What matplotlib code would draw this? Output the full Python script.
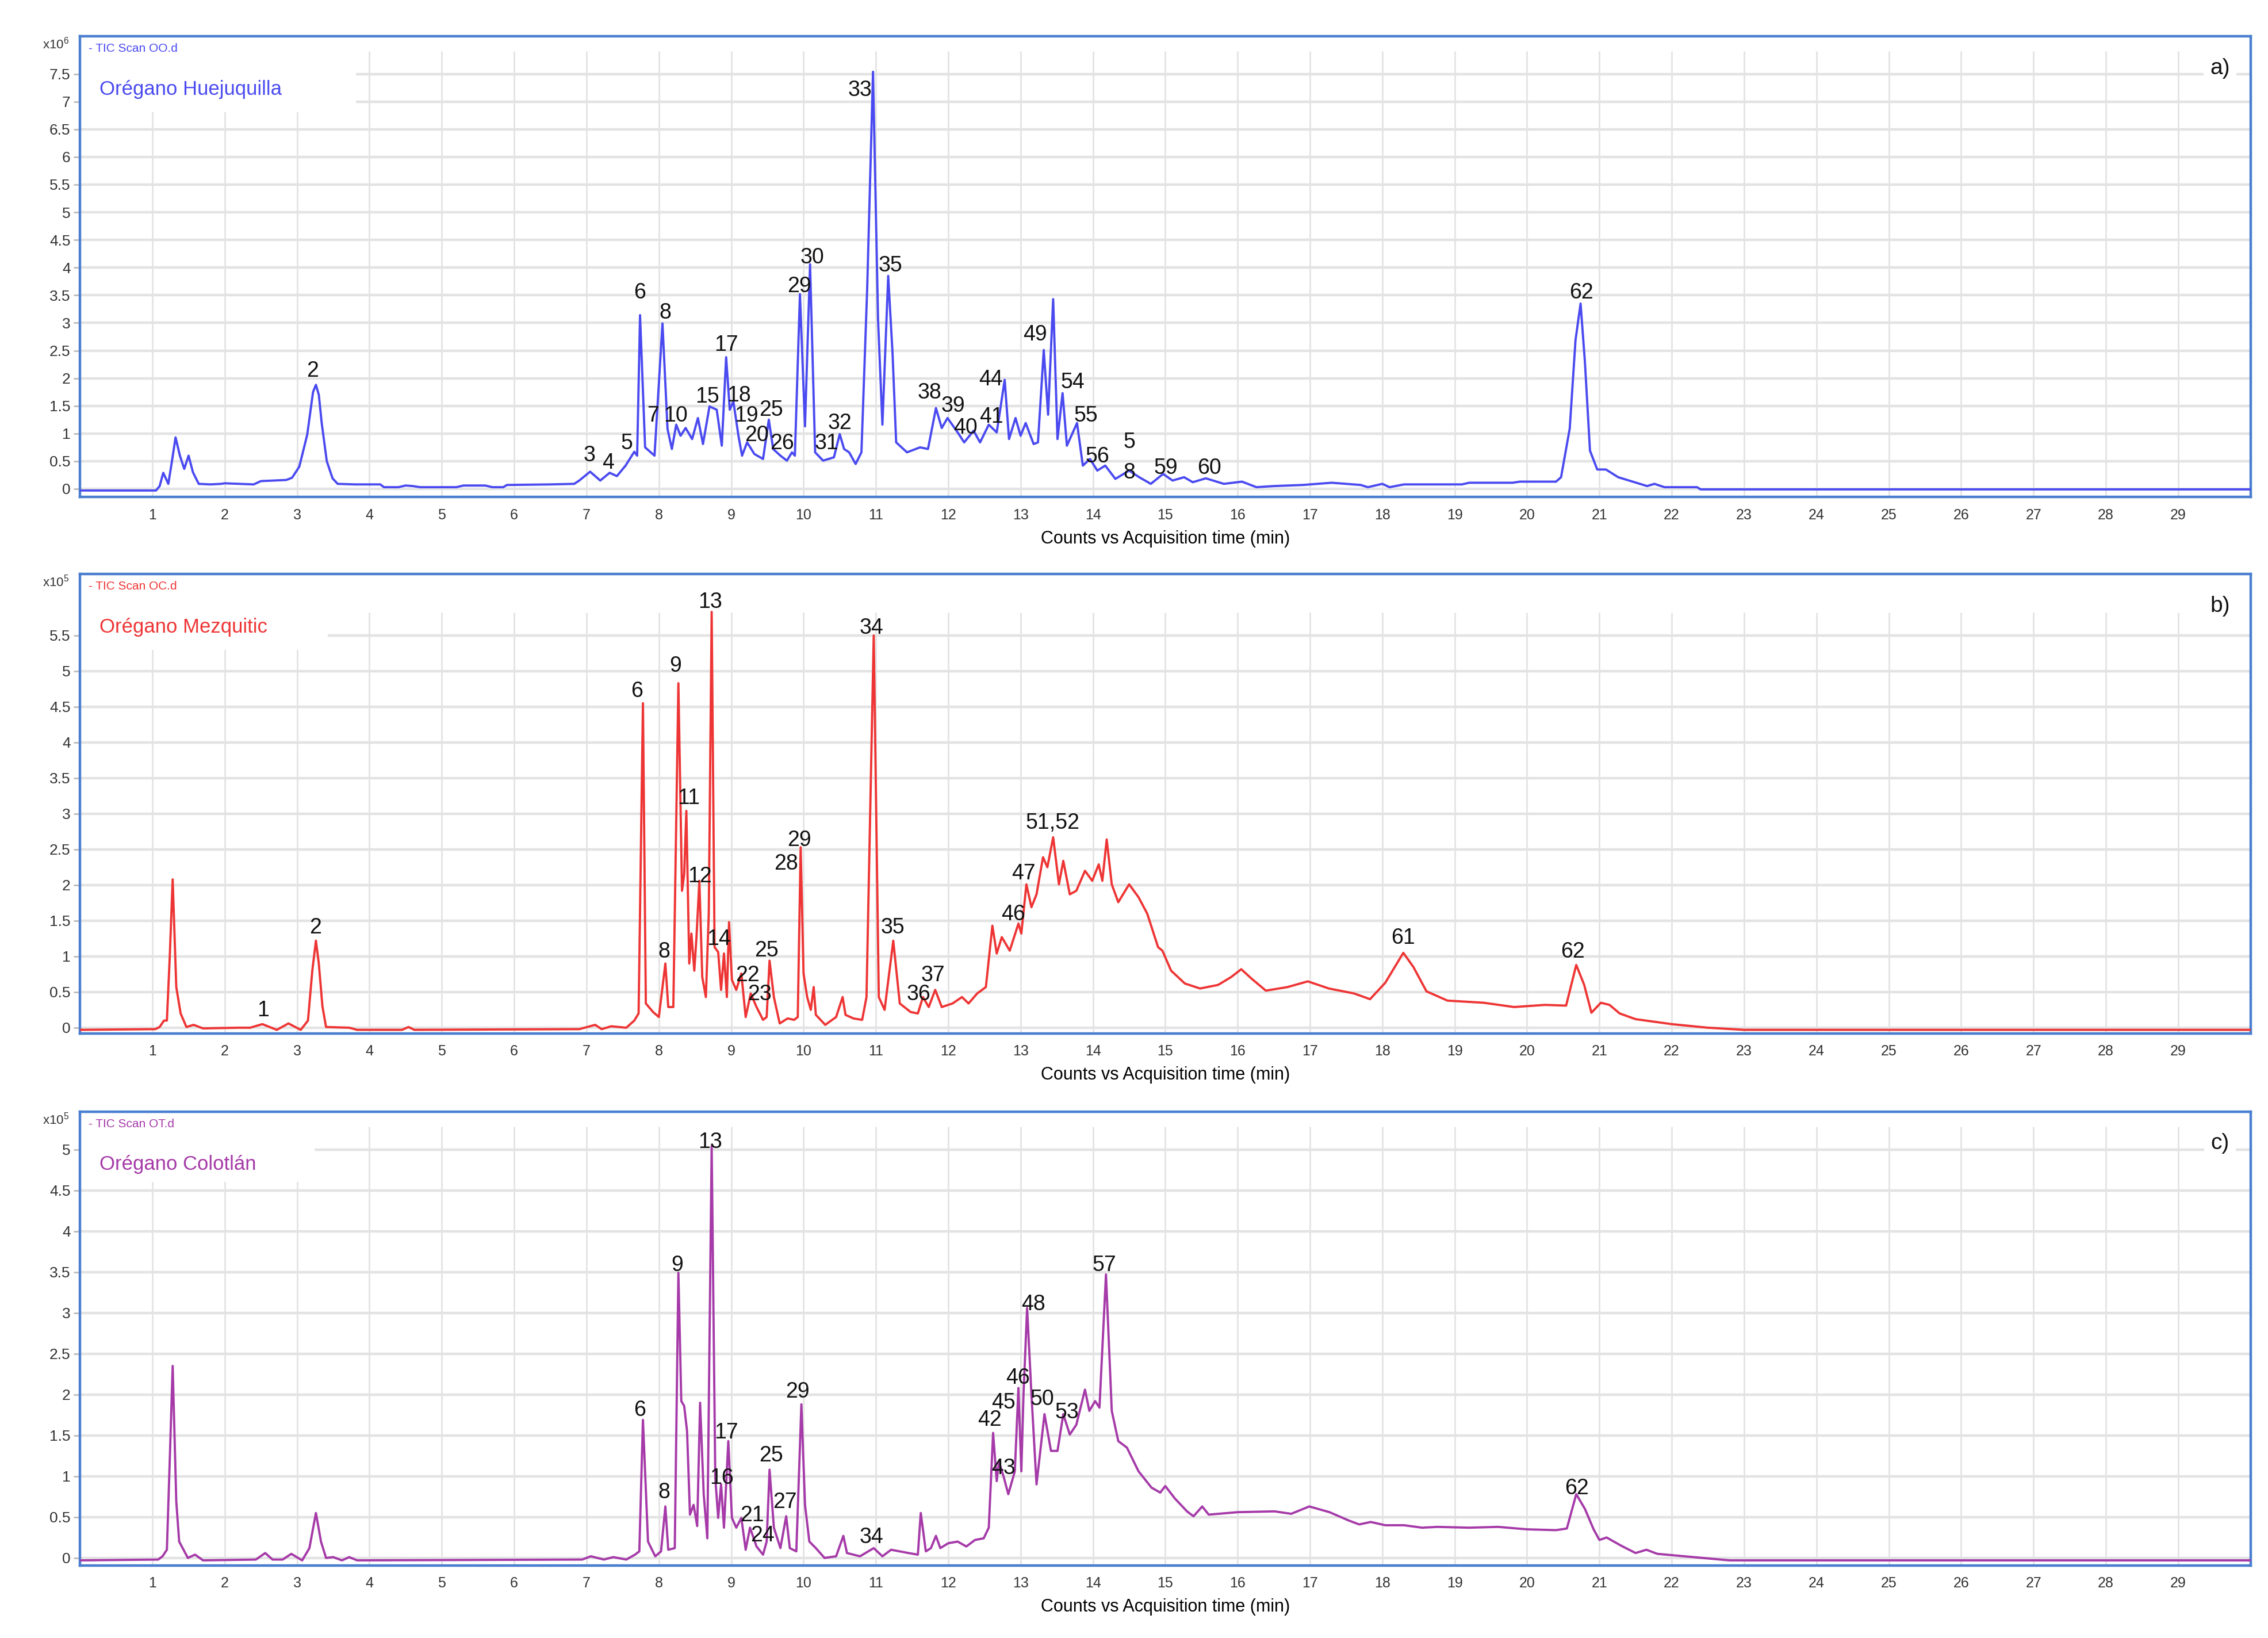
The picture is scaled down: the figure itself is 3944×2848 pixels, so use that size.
"""
GC-MS total ion chromatograms (TIC) of three oregano samples.
"""
import matplotlib
matplotlib.use("Agg")
import matplotlib.pyplot as plt
from matplotlib.patches import Rectangle

plt.rcParams["font.family"] = ["Liberation Sans", "DejaVu Sans"]

# ---------------------------------------------------------------- data
# panel a) Orégano Huejuquilla, counts x10^6
a_time = [0, 1.05, 1.1, 1.15, 1.22, 1.27, 1.32, 1.38, 1.44, 1.5, 1.56, 1.64, 1.8, 1.95, 2.0, 2.4,
          2.5, 2.85, 2.93, 3.03, 3.14, 3.22, 3.26, 3.3, 3.34, 3.41, 3.49, 3.56, 3.8, 4.15, 4.2, 4.4,
          4.5, 4.6, 4.7, 5.2, 5.3, 5.6, 5.7, 5.85, 5.9, 6.5, 6.83, 6.9, 7.05, 7.19, 7.32, 7.42, 7.54,
          7.66, 7.7, 7.74, 7.81, 7.94, 8.05, 8.12, 8.18, 8.24, 8.3, 8.37, 8.46, 8.54, 8.61, 8.7, 8.8,
          8.87, 8.93, 8.98, 9.03, 9.1, 9.15, 9.22, 9.32, 9.44, 9.52, 9.58, 9.68, 9.77, 9.84, 9.88,
          9.95, 10.02, 10.09, 10.16, 10.27, 10.42, 10.5, 10.56, 10.63, 10.72, 10.8, 10.88, 10.96,
          11.03, 11.09, 11.17, 11.23, 11.28, 11.43, 11.61, 11.72, 11.83, 11.91, 11.99, 12.13, 12.22,
          12.35, 12.44, 12.56, 12.67, 12.78, 12.84, 12.93, 13.0, 13.07, 13.18, 13.24, 13.32, 13.38,
          13.45, 13.51, 13.58, 13.64, 13.78, 13.86, 13.96, 14.06, 14.17, 14.31, 14.5, 14.64, 14.8,
          14.97, 15.1, 15.26, 15.38, 15.56, 15.81, 16.06, 16.26, 16.5, 16.9, 17.3, 17.7, 17.8, 18.0,
          18.1, 18.3, 19.1, 19.2, 19.8, 19.9, 20.4, 20.47, 20.59, 20.67, 20.74, 20.8, 20.87, 20.97,
          21.09, 21.26, 21.46, 21.66, 21.76, 21.9, 22.35, 22.4, 30]
a_counts = [-0.03, -0.03, 0.05, 0.29, 0.09, 0.5, 0.93, 0.6, 0.36, 0.6, 0.3, 0.09, 0.08, 0.09, 0.1,
            0.08, 0.14, 0.16, 0.2, 0.4, 0.98, 1.75, 1.88, 1.7, 1.19, 0.5, 0.19, 0.09, 0.08, 0.08,
            0.03, 0.03, 0.06, 0.05, 0.03, 0.03, 0.06, 0.06, 0.03, 0.03, 0.07, 0.08, 0.09, 0.15, 0.31,
            0.15, 0.29, 0.23, 0.42, 0.67, 0.6, 3.14, 0.75, 0.6, 2.99, 1.08, 0.72, 1.16, 0.96, 1.1,
            0.9, 1.28, 0.81, 1.49, 1.43, 0.78, 2.38, 1.43, 1.58, 0.96, 0.6, 0.84, 0.63, 0.54, 1.25,
            0.72, 0.6, 0.51, 0.66, 0.6, 3.52, 1.13, 4.06, 0.66, 0.51, 0.57, 0.99, 0.72, 0.66, 0.45,
            0.66, 3.64, 7.54, 3.05, 1.16, 3.85, 2.45, 0.84, 0.66, 0.75, 0.72, 1.46, 1.1, 1.28, 1.02,
            0.84, 1.05, 0.84, 1.16, 1.02, 1.97, 0.9, 1.28, 0.96, 1.19, 0.81, 0.84, 2.51, 1.34, 3.43,
            0.9, 1.73, 0.78, 1.19, 0.42, 0.54, 0.33, 0.42, 0.18, 0.33, 0.21, 0.09, 0.27, 0.15, 0.21,
            0.12, 0.19, 0.09, 0.13, 0.03, 0.05, 0.07, 0.11, 0.07, 0.03, 0.09, 0.03, 0.08, 0.08, 0.11,
            0.11, 0.13, 0.13, 0.21, 1.09, 2.69, 3.35, 2.29, 0.69, 0.35, 0.35, 0.21, 0.13, 0.05, 0.09,
            0.03, 0.03, -0.01, -0.01]
a_peak_labels = ["2", "3", "4", "5", "6", "7", "10", "8", "15", "17", "18", "19", "20", "25", "26",
                 "29", "30", "31", "32", "33", "35", "38", "39", "40", "41", "44", "49", "54", "55",
                 "56", "5", "8", "59", "60", "62"]
a_label_time = [3.21, 7.04, 7.3, 7.56, 7.74, 7.92, 8.23, 8.09, 8.67, 8.93, 9.11, 9.21, 9.35, 9.55,
                9.7, 9.94, 10.12, 10.32, 10.5, 10.78, 11.2, 11.74, 12.07, 12.24, 12.6, 12.59, 13.2,
                13.72, 13.9, 14.06, 14.5, 14.5, 15.01, 15.61, 20.75]
a_label_counts = [2.13, 0.6, 0.47, 0.82, 3.55, 1.32, 1.32, 3.18, 1.66, 2.6, 1.68, 1.32, 0.97, 1.42,
                  0.82, 3.66, 4.18, 0.82, 1.18, 7.21, 4.03, 1.74, 1.5, 1.1, 1.3, 1.98, 2.79,
                  1.92, 1.32, 0.58, 0.84, 0.29, 0.37, 0.37, 3.55]

# panel b) Orégano Mezquitic, counts x10^5
b_time = [0, 1.04, 1.1, 1.16, 1.2, 1.24, 1.28, 1.33, 1.39, 1.47, 1.57, 1.7, 2.19, 2.35, 2.52, 2.72,
          2.88, 3.05, 3.15, 3.21, 3.26, 3.3, 3.35, 3.4, 3.72, 3.83, 4.45, 4.54, 4.62, 6.9, 7.12,
          7.21, 7.34, 7.55, 7.66, 7.72, 7.78, 7.82, 7.92, 8.0, 8.09, 8.13, 8.2, 8.27, 8.32, 8.35,
          8.38, 8.42, 8.45, 8.49, 8.52, 8.56, 8.6, 8.65, 8.69, 8.73, 8.77, 8.82, 8.86, 8.9, 8.94,
          8.97, 9.01, 9.07, 9.14, 9.2, 9.27, 9.35, 9.44, 9.49, 9.53, 9.59, 9.67, 9.78, 9.87, 9.92,
          9.96, 10.0, 10.05, 10.1, 10.14, 10.17, 10.3, 10.45, 10.54, 10.58, 10.69, 10.81, 10.87,
          10.97, 11.04, 11.12, 11.24, 11.33, 11.48, 11.58, 11.65, 11.73, 11.82, 11.91, 12.06, 12.19,
          12.28, 12.4, 12.52, 12.61, 12.67, 12.74, 12.85, 12.97, 13.01, 13.08, 13.15, 13.22, 13.31,
          13.37, 13.45, 13.53, 13.59, 13.68, 13.77, 13.89, 13.99, 14.08, 14.13, 14.19, 14.26, 14.35,
          14.5, 14.63, 14.75, 14.9, 14.96, 15.08, 15.27, 15.48, 15.73, 15.91, 16.05, 16.19, 16.39,
          16.69, 16.97, 17.26, 17.61, 17.83, 18.04, 18.29, 18.43, 18.61, 18.9, 19.4, 19.82, 20.25,
          20.54, 20.68, 20.79, 20.89, 21.02, 21.14, 21.28, 21.5, 22.0, 22.5, 23.0, 30]
b_counts = [-0.03, -0.02, 0.01, 0.1, 0.1, 1.0, 2.08, 0.57, 0.2, 0.01, 0.04, -0.01, 0.0, 0.0, 0.05,
            -0.03, 0.06, -0.03, 0.1, 0.8, 1.22, 0.9, 0.3, 0.01, 0.0, -0.03, -0.03, 0.01, -0.03,
            -0.02, 0.04, -0.02, 0.02, 0.0, 0.1, 0.2, 4.55, 0.34, 0.22, 0.15, 0.9, 0.29, 0.29, 4.83,
            1.92, 2.15, 3.04, 0.9, 1.32, 0.8, 1.27, 2.06, 0.71, 0.43, 1.6, 5.83, 1.13, 1.06, 0.53,
            1.04, 0.43, 1.48, 0.67, 0.53, 0.76, 0.15, 0.48, 0.29, 0.11, 0.15, 0.94, 0.43, 0.06, 0.13,
            0.11, 0.15, 2.53, 0.76, 0.43, 0.25, 0.57, 0.18, 0.04, 0.15, 0.43, 0.18, 0.13, 0.11, 0.43,
            5.5, 0.43, 0.25, 1.22, 0.34, 0.22, 0.2, 0.43, 0.29, 0.53, 0.29, 0.34, 0.43, 0.34, 0.48,
            0.57, 1.43, 1.04, 1.27, 1.08, 1.46, 1.32, 2.01, 1.69, 1.87, 2.39, 2.25, 2.67, 2.01, 2.34,
            1.87, 1.92, 2.2, 2.06, 2.29, 2.06, 2.64, 2.01, 1.76, 2.01, 1.83, 1.6, 1.13, 1.08, 0.8,
            0.62, 0.55, 0.6, 0.71, 0.82, 0.69, 0.52, 0.57, 0.65, 0.55, 0.48, 0.4, 0.63, 1.05, 0.85,
            0.51, 0.38, 0.35, 0.29, 0.32, 0.31, 0.88, 0.6, 0.21, 0.35, 0.32, 0.2, 0.12, 0.05, 0.0,
            -0.03, -0.03]
b_peak_labels = ["1", "2", "6", "8", "9", "11", "12", "13", "14", "22", "23", "25", "28", "29",
                 "34", "35", "36", "37", "46", "47", "51,52", "61", "62"]
b_label_time = [2.53, 3.25, 7.7, 8.07, 8.23, 8.41, 8.57, 8.71, 8.83, 9.23, 9.39, 9.49, 9.76, 9.94,
                10.94, 11.23, 11.59, 11.79, 12.9, 13.04, 13.44, 18.29, 20.63]
b_label_counts = [0.24, 1.4, 4.72, 1.06, 5.07, 3.22, 2.12, 5.97, 1.24, 0.73, 0.47, 1.08, 2.3,
                  2.63, 5.6, 1.4, 0.47, 0.73, 1.59, 2.16, 2.87, 1.26, 1.06]

# panel c) Orégano Colotlán, counts x10^5
c_time = [0, 1.08, 1.14, 1.2, 1.24, 1.28, 1.33, 1.37, 1.43, 1.49, 1.59, 1.7, 2.43, 2.56, 2.66, 2.8,
          2.92, 3.07, 3.17, 3.26, 3.33, 3.4, 3.5, 3.62, 3.72, 3.83, 6.94, 7.06, 7.24, 7.37, 7.55,
          7.67, 7.73, 7.78, 7.85, 7.95, 8.03, 8.09, 8.13, 8.22, 8.27, 8.31, 8.35, 8.39, 8.43, 8.48,
          8.53, 8.57, 8.62, 8.67, 8.73, 8.78, 8.82, 8.86, 8.9, 8.96, 9.01, 9.07, 9.14, 9.2, 9.26,
          9.35, 9.44, 9.49, 9.53, 9.59, 9.68, 9.76, 9.81, 9.9, 9.97, 10.02, 10.08, 10.17, 10.29,
          10.45, 10.55, 10.6, 10.78, 10.97, 11.09, 11.21, 11.45, 11.58, 11.62, 11.69, 11.76, 11.83,
          11.89, 12.0, 12.13, 12.25, 12.37, 12.49, 12.56, 12.62, 12.67, 12.7, 12.77, 12.83, 12.92,
          12.97, 13.01, 13.04, 13.09, 13.15, 13.22, 13.33, 13.42, 13.51, 13.59, 13.68, 13.77, 13.89,
          13.95, 14.03, 14.09, 14.18, 14.26, 14.35, 14.47, 14.63, 14.81, 14.93, 15.0, 15.13, 15.3,
          15.39, 15.51, 15.6, 16.0, 16.51, 16.74, 16.99, 17.27, 17.53, 17.68, 17.84, 18.04, 18.3,
          18.55, 18.76, 19.2, 19.6, 20.0, 20.4, 20.55, 20.68, 20.8, 20.92, 21.0, 21.1, 21.3, 21.5,
          21.65, 21.8, 22.3, 22.8, 30]
c_counts = [-0.03, -0.02, 0.02, 0.1, 1.2, 2.35, 0.69, 0.2, 0.1, 0.0, 0.04, -0.03, -0.02, 0.06,
            -0.02, -0.02, 0.05, -0.03, 0.12, 0.55, 0.2, 0.0, 0.01, -0.03, 0.01, -0.03, -0.02, 0.02,
            -0.02, 0.01, -0.02, 0.04, 0.08, 1.69, 0.2, 0.02, 0.08, 0.63, 0.1, 0.12, 3.49, 1.92, 1.86,
            1.55, 0.53, 0.65, 0.39, 1.9, 0.78, 0.24, 5.04, 0.98, 0.49, 0.9, 0.37, 1.43, 0.49, 0.37,
            0.49, 0.1, 0.37, 0.14, 0.04, 0.2, 1.08, 0.37, 0.12, 0.51, 0.12, 0.08, 1.88, 0.65, 0.2,
            0.12, 0.0, 0.02, 0.27, 0.06, 0.02, 0.12, 0.02, 0.1, 0.06, 0.04, 0.55, 0.08, 0.12, 0.27,
            0.12, 0.18, 0.2, 0.14, 0.22, 0.24, 0.37, 1.53, 0.94, 1.18, 0.98, 0.78, 1.06, 2.08, 1.06,
            2.0, 3.06, 2.0, 0.9, 1.76, 1.31, 1.31, 1.76, 1.51, 1.63, 2.06, 1.8, 1.92, 1.84, 3.47,
            1.8, 1.43, 1.35, 1.06, 0.86, 0.8, 0.88, 0.73, 0.57, 0.51, 0.63, 0.53, 0.56, 0.57, 0.54,
            0.63, 0.56, 0.46, 0.41, 0.44, 0.4, 0.4, 0.37, 0.38, 0.37, 0.38, 0.35, 0.34, 0.36, 0.78,
            0.6, 0.35, 0.22, 0.25, 0.15, 0.06, 0.1, 0.05, 0.01, -0.03, -0.03]
c_peak_labels = ["6", "8", "9", "13", "17", "16", "21", "24", "25", "27", "29", "34", "42", "43",
                 "45", "46", "48", "50", "53", "57", "62"]
c_label_time = [7.74, 8.07, 8.25, 8.71, 8.93, 8.87, 9.29, 9.43, 9.55, 9.74, 9.92, 10.94, 12.57,
                12.76, 12.76, 12.96, 13.18, 13.3, 13.64, 14.16, 20.69]
c_label_counts = [1.81, 0.8, 3.58, 5.09, 1.53, 0.98, 0.52, 0.27, 1.25, 0.68, 2.03, 0.25, 1.69, 1.1,
                  1.9, 2.2, 3.1, 1.94, 1.78, 3.58, 0.85]

x_ticks = list(range(1, 30))
a_yticks = [0, 0.5, 1, 1.5, 2, 2.5, 3, 3.5, 4, 4.5, 5, 5.5, 6, 6.5, 7, 7.5]
b_yticks = [0, 0.5, 1, 1.5, 2, 2.5, 3, 3.5, 4, 4.5, 5, 5.5]
c_yticks = [0, 0.5, 1, 1.5, 2, 2.5, 3, 3.5, 4, 4.5, 5]


FRAME = "#4a7fd0"
GRID = "#e3e3e3"


def draw_panel(ax, time, counts, color, yticks, ylim, exponent, scan, sample, tag,
               lab_text, lab_t, lab_c, white_w, white_h):
    ax.set_xlim(0, 30)
    ax.set_ylim(*ylim)

    # grid
    ax.hlines(yticks, 0, 30, color=GRID, lw=1.6, zorder=0)
    ax.vlines(x_ticks, ylim[0], yticks[-1] + 0.05 * (ylim[1] - ylim[0]), color=GRID, lw=1.0, zorder=0)
    ax.add_patch(Rectangle((0, 1 - white_h), white_w, white_h, transform=ax.transAxes,
                           facecolor="white", edgecolor="none", zorder=1))

    ax.plot(time, counts, color=color, lw=1.4, zorder=3)

    for s, t, c in zip(lab_text, lab_t, lab_c):
        ax.text(t, c, s, ha="center", va="center", fontsize=13.5, color="#111111", zorder=4)

    ax.set_xticks(x_ticks)
    ax.set_yticks(yticks)
    ax.set_yticklabels([f"{y:g}" for y in yticks])
    ax.tick_params(axis="x", length=0, pad=7, labelsize=9, labelcolor="#333333")
    ax.tick_params(axis="y", length=4, width=1, color="#bbbbbb", pad=2, labelsize=9.5,
                   labelcolor="#333333")
    for sp in ax.spines.values():
        sp.set_color(FRAME)
        sp.set_linewidth(1.6)

    ax.set_xlabel("Counts vs Acquisition time (min)", fontsize=11, labelpad=5)

    ax.text(-0.005, 1.0, r"x10$^{\mathregular{%d}}$" % exponent, transform=ax.transAxes,
            ha="right", va="top", fontsize=8, color="#333333")
    ax.text(0.004, 0.985, "- " + scan, transform=ax.transAxes, ha="left", va="top",
            fontsize=7.5, color=color, zorder=4)
    ax.text(0.009, 0.905, sample, transform=ax.transAxes, ha="left", va="top",
            fontsize=12.5, color=color, zorder=4)
    ax.text(0.986, 0.93, tag, transform=ax.transAxes, ha="center", va="center", fontsize=14,
            color="#111111", zorder=4,
            bbox=dict(facecolor="white", edgecolor="none", pad=4))


fig = plt.figure(figsize=(19.72, 14.24), dpi=200)
ax_a = fig.add_axes([0.0353, 0.6965, 0.957, 0.2813])
ax_b = fig.add_axes([0.0353, 0.3691, 0.957, 0.2804])
ax_c = fig.add_axes([0.0353, 0.0444, 0.957, 0.2768])

draw_panel(ax_a, a_time, a_counts, "#4a4af0", a_yticks, (-0.15, 8.18), 6, "TIC Scan OO.d",
           "Orégano Huejuquilla", "a)", a_peak_labels, a_label_time, a_label_counts, 0.127, 0.164)
draw_panel(ax_b, b_time, b_counts, "#ee3535", b_yticks, (-0.08, 6.36), 5, "TIC Scan OC.d",
           "Orégano Mezquitic", "b)", b_peak_labels, b_label_time, b_label_counts, 0.114, 0.165)
draw_panel(ax_c, c_time, c_counts, "#a53aa8", c_yticks, (-0.09, 5.46), 5, "TIC Scan OT.d",
           "Orégano Colotlán", "c)", c_peak_labels, c_label_time, c_label_counts, 0.108, 0.154)

fig.savefig("out.png", dpi=200)
plt.close(fig)
